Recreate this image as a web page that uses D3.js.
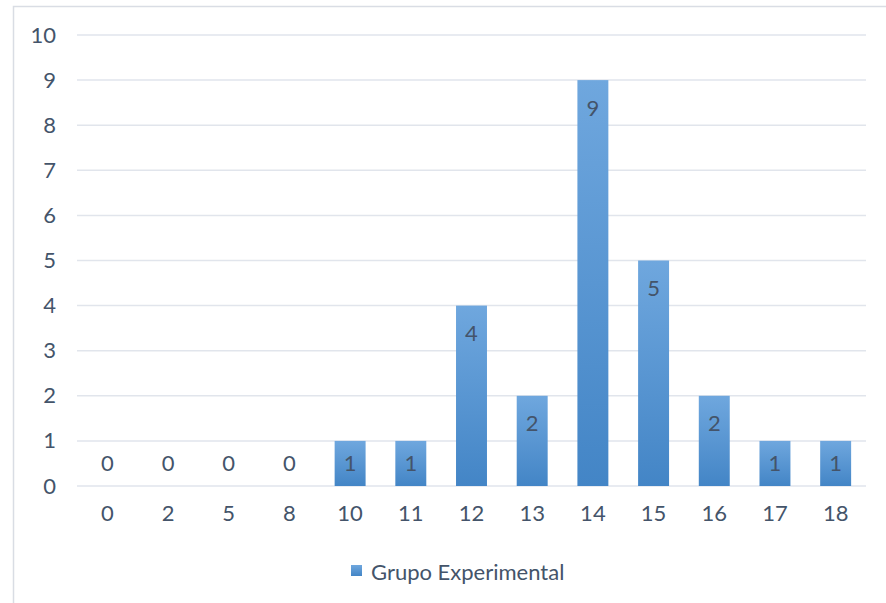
<!DOCTYPE html>
<html>
<head>
<meta charset="utf-8">
<script src="https://cdn.jsdelivr.net/npm/d3@7"></script>
<style>
  html, body { margin: 0; padding: 0; background: #fff; }
  svg { display: block; }
  text { font-family: Lato, "Open Sans", sans-serif; fill: #44546A; }
</style>
</head>
<body>
<svg id="chart" width="886" height="603"></svg>
<script>
// Score categories and number of students in each
const categories = ["0", "2", "5", "8", "10", "11", "12", "13", "14", "15", "16", "17", "18"];
const counts = [0, 0, 0, 0, 1, 1, 4, 2, 9, 5, 2, 1, 1];
const yTicks = [0, 1, 2, 3, 4, 5, 6, 7, 8, 9, 10];
const seriesName = "Grupo Experimental";

const FS = 22;
const svg = d3.select("#chart");
const W = 886, H = 603;
const plot = { left: 77, right: 866, top: 35, bottom: 486 };

// Outer chart frame
svg.append("rect")
  .attr("x", 13.5).attr("y", 6.5)
  .attr("width", W + 20).attr("height", H + 20)
  .attr("fill", "#fff")
  .attr("stroke", "#d9dde4").attr("stroke-width", 1.5);

const defs = svg.append("defs");
const grad = defs.append("linearGradient")
  .attr("id", "barGrad").attr("x1", 0).attr("y1", 0).attr("x2", 0).attr("y2", 1);
grad.append("stop").attr("offset", "0%").attr("stop-color", "#6fa7de");
grad.append("stop").attr("offset", "100%").attr("stop-color", "#4385c6");

const x = d3.scaleBand()
  .domain(categories)
  .range([plot.left, plot.right])
  .paddingInner(0.49)
  .paddingOuter(0.245);

const y = d3.scaleLinear()
  .domain([0, 10])
  .range([plot.bottom, plot.top]);

// Horizontal gridlines
svg.append("g")
  .selectAll("line")
  .data(yTicks)
  .join("line")
  .attr("x1", plot.left).attr("x2", plot.right)
  .attr("y1", d => y(d)).attr("y2", d => y(d))
  .attr("stroke", "#e1e5ec").attr("stroke-width", 1.5);

// Y axis labels
const yAxis = d3.axisLeft(y).tickValues(yTicks).tickSize(0).tickPadding(0);
const gy = svg.append("g")
  .attr("transform", `translate(56,0)`)
  .call(yAxis);
gy.select(".domain").remove();
gy.selectAll("text")
  .attr("font-size", FS)
  .attr("font-family", "Lato, 'Open Sans', sans-serif")
  .attr("fill", "#44546A");

// X axis labels
const xAxis = d3.axisBottom(x).tickSize(0).tickPadding(0);
const gx = svg.append("g")
  .attr("transform", `translate(0,${plot.bottom + 19})`)
  .call(xAxis);
gx.select(".domain").remove();
gx.selectAll("text")
  .attr("font-size", FS)
  .attr("font-family", "Lato, 'Open Sans', sans-serif")
  .attr("fill", "#44546A");

const data = categories.map((c, i) => ({ cat: c, value: counts[i] }));

// Bars
svg.append("g")
  .selectAll("rect")
  .data(data.filter(d => d.value > 0))
  .join("rect")
  .attr("x", d => x(d.cat))
  .attr("y", d => y(d.value))
  .attr("width", x.bandwidth())
  .attr("height", d => y(0) - y(d.value))
  .attr("fill", "url(#barGrad)");

// Value labels inside the bar ends
svg.append("g")
  .selectAll("text")
  .data(data)
  .join("text")
  .attr("x", d => x(d.cat) + x.bandwidth() / 2)
  .attr("y", d => Math.min(y(d.value) + 27, y(0) - 24))
  .attr("text-anchor", "middle")
  .attr("dominant-baseline", "central")
  .attr("font-size", FS)
  .text(d => d.value);

// Legend
const legend = svg.append("g").attr("transform", "translate(351,565)");
legend.append("rect")
  .attr("width", 11).attr("height", 11)
  .attr("fill", "url(#barGrad)");
legend.append("text")
  .attr("x", 20).attr("y", 6)
  .attr("dominant-baseline", "central")
  .attr("font-size", FS)
  .text(seriesName);
</script>
</body>
</html>
